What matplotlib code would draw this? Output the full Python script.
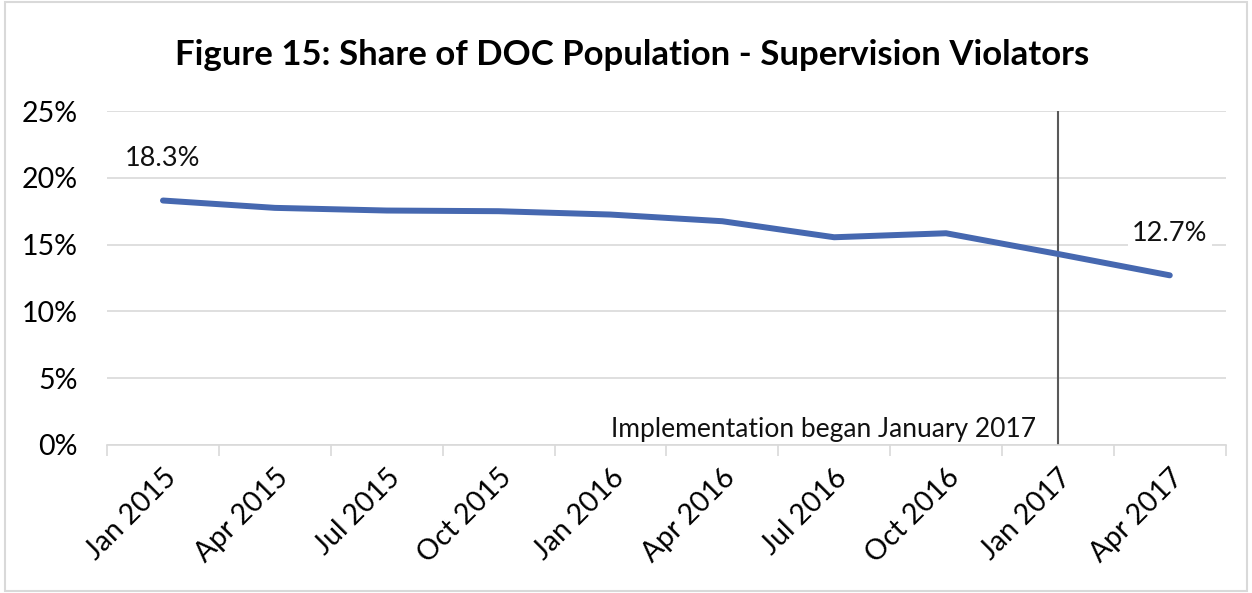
import matplotlib.pyplot as plt
from matplotlib.patches import Rectangle

# Dane wykresu
kwartaly = ["Jan 2015", "Apr 2015", "Jul 2015", "Oct 2015", "Jan 2016",
            "Apr 2016", "Jul 2016", "Oct 2016", "Jan 2017", "Apr 2017"]
udzial = [18.3, 17.75, 17.55, 17.5, 17.25, 16.75, 15.55, 15.85, 14.3, 12.7]
osie_y = [0, 5, 10, 15, 20, 25]
start_wdrozenia = "Jan 2017"

plt.rcParams['font.family'] = ['Lato', 'DejaVu Sans']

fig = plt.figure(figsize=(12.52, 5.93), dpi=100)
ax = fig.add_axes([0.0855, 0.2496, 0.8935, 0.5632])

x = list(range(len(kwartaly)))
ax.plot(x, udzial, color='#4668B0', linewidth=4.3, solid_capstyle='round',
        solid_joinstyle='round', zorder=3)

# Etykiety pierwszej i ostatniej wartości
for i in (0, len(udzial) - 1):
    ax.annotate(f"{udzial[i]:.1f}%", (x[i], udzial[i]), xytext=(0, 21),
                textcoords='offset points', ha='center', va='bottom',
                fontsize=19.5, color='#111111', zorder=4,
                bbox=dict(boxstyle='square,pad=0.15', fc='white', ec='none'))

# Linia pionowa - początek wdrożenia
xi = kwartaly.index(start_wdrozenia)
ax.axvline(xi, color='#595959', linewidth=1.5, zorder=2)
ax.text(xi - 0.2, 0.25, "Implementation began January 2017", ha='right',
        va='bottom', fontsize=19, color='#111111')

ax.set_xlim(-0.5, len(kwartaly) - 0.5)
ax.set_ylim(0, 25)
ax.set_yticks(osie_y)
ax.set_yticklabels([f"{v}%" for v in osie_y], fontsize=20.5)
ax.set_xticks(x)
ax.set_xticklabels(kwartaly, rotation=45, ha='right', rotation_mode='anchor',
                   fontsize=20.5)
ax.set_xticks([i - 0.5 for i in range(len(kwartaly) + 1)], minor=True)
ax.tick_params(axis='x', which='major', length=0, pad=14)
ax.tick_params(axis='x', which='minor', length=8, color='#d9d9d9', width=1.2)
ax.tick_params(axis='y', length=0, pad=21)

ax.grid(axis='y', color='#d9d9d9', linewidth=1.2, zorder=0)
ax.set_axisbelow(True)
for s in ('top', 'right', 'left'):
    ax.spines[s].set_visible(False)
ax.spines['bottom'].set_color('#d9d9d9')
ax.spines['bottom'].set_linewidth(1.2)

fig.text(0.505, 0.908, "Figure 15: Share of DOC Population - Supervision Violators",
         ha='center', va='center', fontsize=25, fontweight='bold')

# Ramka wokół całego wykresu
fig.patches.append(Rectangle((0.004, 0.004), 0.992, 0.992, transform=fig.transFigure,
                             fill=False, ec='#d9d9d9', lw=1.5))

plt.savefig("out.png", dpi=100)
plt.close()
